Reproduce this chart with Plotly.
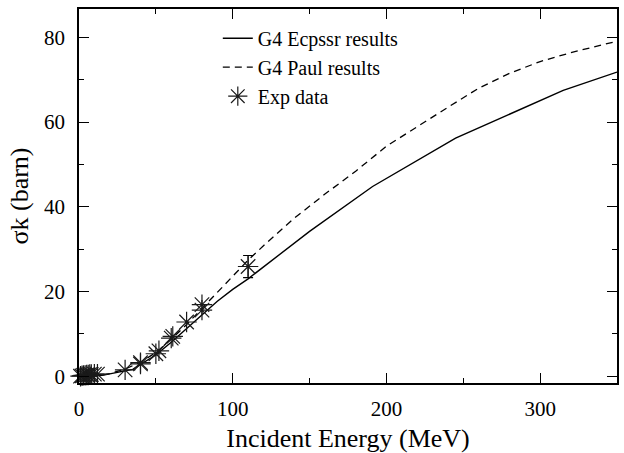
import plotly.graph_objects as go

# G4 Ecpssr results (solid)
ecpssr_E = [0, 5, 10, 15, 20, 25, 30, 35, 40, 50, 60, 70, 80, 90, 100, 110, 150, 191, 245, 315, 350]
ecpssr_sigma = [0, 0, 0.05, 0.2, 0.5, 0.9, 1.3, 1.6, 2.8, 5.0, 8.0, 11.2, 14.5, 17.7, 20.5, 23.0, 34.2, 44.8, 56.2, 67.5, 71.8]

# G4 Paul results (dashed)
paul_E = [0, 5, 10, 15, 20, 30, 40, 50, 60, 70, 80, 90, 100, 110, 120, 140, 160, 180, 200, 220, 240, 260, 280, 300, 320, 350]
paul_sigma = [0, 0, 0.1, 0.3, 0.6, 1.7, 3.3, 5.6, 8.7, 12.2, 16.0, 19.9, 23.7, 27.4, 30.8, 37.3, 43.0, 48.4, 54.3, 59.0, 63.5, 68.0, 71.5, 74.3, 76.4, 79.1]

# Experimental data
exp_E = [1, 2, 3, 4, 5, 6, 7, 8, 10, 12, 30, 40, 40, 50, 52, 60, 61, 70, 80, 80]
exp_sigma = [0.0, 0.1, 0.2, 0.2, 0.3, 0.3, 0.4, 0.4, 0.5, 0.5, 1.5, 2.9, 3.2, 5.3, 6.0, 9.0, 9.4, 12.8, 15.6, 16.9]
exp_err_E = [110]
exp_err_sigma = [25.9]
exp_err = [2.6]

FONT = "Liberation Serif"
star = dict(symbol="asterisk-open", size=17, color="#1a1a1a", line=dict(width=1.2, color="#1a1a1a"))

fig = go.Figure()
fig.add_trace(go.Scatter(x=ecpssr_E, y=ecpssr_sigma, mode="lines", name="G4 Ecpssr results",
                         line=dict(color="black", width=1.4)))
fig.add_trace(go.Scatter(x=paul_E, y=paul_sigma, mode="lines", name="G4 Paul results",
                         line=dict(color="black", width=1.3, dash="7px,5px")))
fig.add_trace(go.Scatter(x=exp_E, y=exp_sigma, mode="markers", name="Exp data",
                         marker=star, cliponaxis=False))
fig.add_trace(go.Scatter(x=exp_err_E, y=exp_err_sigma, mode="markers", showlegend=False,
                         marker=star, cliponaxis=False,
                         error_y=dict(type="data", array=exp_err, visible=True, color="black",
                                      thickness=1.2, width=5)))

axis_common = dict(
    showgrid=False, zeroline=False, showline=True, linecolor="black", linewidth=1.5,
    mirror="allticks", ticks="inside", ticklen=10, tickwidth=1.2, tickcolor="black",
    tickfont=dict(family=FONT, size=21, color="black"),
)

fig.update_xaxes(range=[0, 350], dtick=100, tick0=0,
                 minor=dict(dtick=50, ticks="inside", ticklen=5, tickcolor="black", tickwidth=1.2),
                 title=dict(text="Incident Energy (MeV)", font=dict(family=FONT, size=26, color="black"),
                            standoff=9),
                 ticklabelstandoff=6,
                 **axis_common)
fig.update_yaxes(range=[-1.6, 86.7], dtick=20, tick0=0,
                 minor=dict(dtick=10, ticks="inside", ticklen=5, tickcolor="black", tickwidth=1.2),
                 title=dict(text="σk (barn)", font=dict(family=FONT, size=26, color="black"),
                            standoff=8),
                 ticklabelstandoff=8,
                 **axis_common)

fig.update_layout(
    width=624, height=453,
    margin=dict(l=79, r=5, t=9, b=64),
    paper_bgcolor="white", plot_bgcolor="white",
    font=dict(family=FONT, color="black"),
    showlegend=True,
    legend=dict(x=0.258, y=0.974, xanchor="left", yanchor="top",
                bgcolor="rgba(0,0,0,0)", borderwidth=0,
                font=dict(family=FONT, size=20, color="black"),
                tracegroupgap=0),
)

fig.write_html("out.html")
